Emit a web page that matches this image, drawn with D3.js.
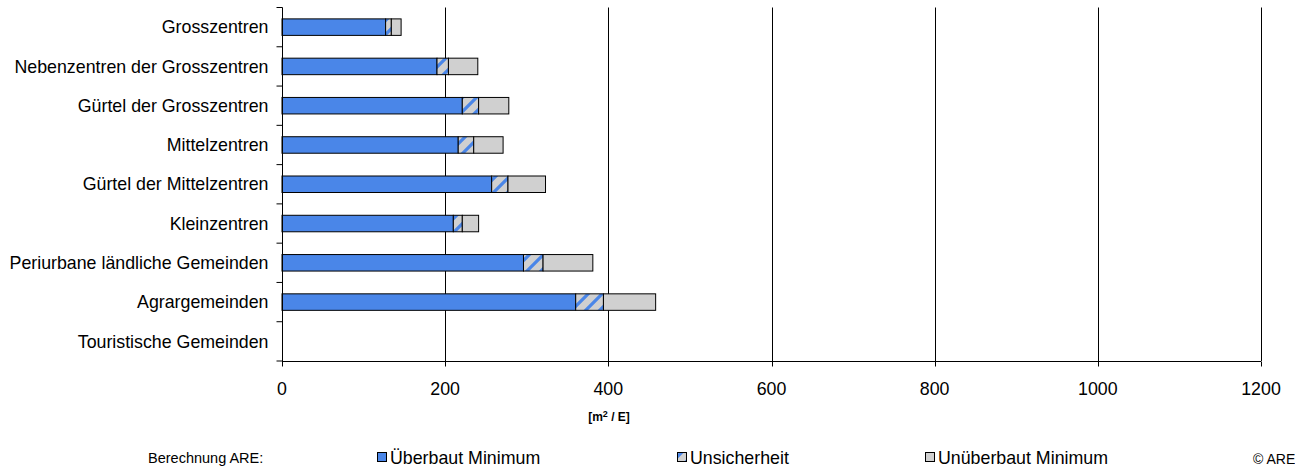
<!DOCTYPE html>
<html>
<head>
<meta charset="utf-8">
<script src="https://cdn.jsdelivr.net/npm/d3@7/dist/d3.min.js"></script>
<style>
html,body{margin:0;padding:0;background:#fff;}
svg text{font-family:"Liberation Sans",Arial,sans-serif;fill:#000;}
</style>
</head>
<body>
<svg id="chart" width="1295" height="470"></svg>
<script>
const categories = ["Grosszentren","Nebenzentren der Grosszentren","Gürtel der Grosszentren","Mittelzentren","Gürtel der Mittelzentren","Kleinzentren","Periurbane ländliche Gemeinden","Agrargemeinden","Touristische Gemeinden"];
const ueberbautMin = [127, 190, 221, 216, 257, 210, 296, 360, 0];
const unsicherheit = [7, 14, 20, 19, 20, 11, 24, 34, 0];
const unueberbautMin = [12, 36, 37, 36, 46, 20, 61, 64, 0];
const xTicks = [0, 200, 400, 600, 800, 1000, 1200];
const seriesNames = ["Überbaut Minimum", "Unsicherheit", "Unüberbaut Minimum"];

(function(){
const svg = d3.select("#chart");
const pLeft = 282, pRight = 1261, pTop = 7.5, pBottom = 361;
const FS = "17.8px";
const x = d3.scaleLinear().domain([0, 1200]).range([pLeft, pRight]);
const y = d3.scaleBand().domain(categories).range([pTop, pBottom]).paddingInner(0.58).paddingOuter(0.29);

const defs = svg.append("defs");
const pat = defs.append("pattern").attr("id","hatch").attr("patternUnits","userSpaceOnUse")
  .attr("width",14).attr("height",14);
pat.append("rect").attr("width",14).attr("height",14).attr("fill","#d0d0d0");
pat.append("path").attr("d","M-2,16 L16,-2 M-9,9 L9,-9 M5,23 L23,5").attr("stroke","#4a86e8").attr("stroke-width",3.2);

const fills = ["#4a86e8", "url(#hatch)", "#d0d0d0"];

// gridlines
svg.append("g").selectAll("line").data(xTicks.slice(1)).join("line")
  .attr("x1", d => Math.round(x(d)) + 0.5).attr("x2", d => Math.round(x(d)) + 0.5)
  .attr("y1", pTop).attr("y2", pBottom)
  .attr("stroke", "#000").attr("stroke-width", 1);

// bars
const stacked = categories.map((c, i) => {
  const vals = [ueberbautMin[i], unsicherheit[i], unueberbautMin[i]];
  let acc = 0;
  return vals.map((v, k) => { const s = acc; acc += v; return {c, k, x0: s, x1: acc, v}; });
}).flat().filter(d => d.v > 0);

svg.append("g").selectAll("rect").data(stacked).join("rect")
  .attr("x", d => x(d.x0)).attr("width", d => x(d.x1) - x(d.x0))
  .attr("y", d => y(d.c)).attr("height", y.bandwidth())
  .attr("fill", d => fills[d.k]).attr("stroke", "#000").attr("stroke-width", 1);

// y axis
const yAxis = svg.append("g").attr("transform", `translate(${pLeft + 0.5},0)`);
yAxis.append("line").attr("x1",0).attr("x2",0).attr("y1",pTop).attr("y2",pBottom).attr("stroke","#000");
const step = (pBottom - pTop) / categories.length;
yAxis.selectAll("line.tk").data(d3.range(categories.length + 1)).join("line").attr("class","tk")
  .attr("x1",-6).attr("x2",0).attr("y1", i => pTop + i*step).attr("y2", i => pTop + i*step).attr("stroke","#000");
yAxis.selectAll("text").data(categories).join("text")
  .attr("x", -14).attr("y", d => y(d) + y.bandwidth()/2).attr("dy","0.35em")
  .attr("text-anchor","end").attr("font-size",FS).text(d => d);

// x axis
const xAxis = svg.append("g").attr("transform", `translate(0,${pBottom + 0.5})`);
xAxis.append("line").attr("x1",pLeft).attr("x2",pRight).attr("stroke","#000");
xAxis.selectAll("line.tk").data(xTicks).join("line").attr("class","tk")
  .attr("x1", d => Math.round(x(d))+0.5).attr("x2", d => Math.round(x(d))+0.5).attr("y1",0).attr("y2",5).attr("stroke","#000");
xAxis.selectAll("text").data(xTicks).join("text")
  .attr("x", d => x(d)).attr("y", 33).attr("text-anchor","middle").attr("font-size",FS).text(d => d);

// axis title
const t = svg.append("text").attr("x", 609).attr("y", 421).attr("text-anchor","middle")
  .attr("font-size","12px").attr("font-weight","bold");
t.append("tspan").text("[m");
t.append("tspan").attr("dy",-4).attr("font-size","9px").text("2");
t.append("tspan").attr("dy",4).text(" / E]");

// legend
const ly = 458;
svg.append("text").attr("x",148).attr("y",ly+5).attr("font-size","14.5px").text("Berechnung ARE:");
const legX = [377, 677, 925];
seriesNames.forEach((n, k) => {
  svg.append("rect").attr("x", legX[k]+0.5).attr("y", ly-5.5).attr("width",9).attr("height",9)
    .attr("fill", fills[k]).attr("stroke","#000").attr("stroke-width",1);
  svg.append("text").attr("x", legX[k]+13).attr("y", ly+6).attr("font-size",FS).text(n);
});
svg.append("text").attr("x",1253).attr("y",ly+6).attr("font-size","14px").text("© ARE");
})();
</script>
</body>
</html>
